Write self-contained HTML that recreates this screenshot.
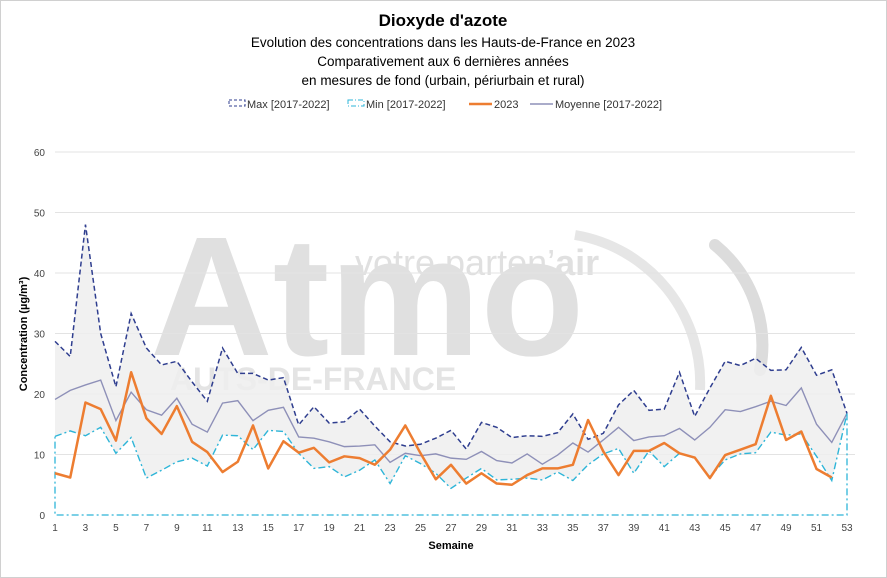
<!DOCTYPE html>
<html><head><meta charset="utf-8"><style>
body{margin:0;background:#fff;font-family:"Liberation Sans",sans-serif;}
svg{display:block}
</style></head><body>
<svg id="chart" width="887" height="578" xmlns="http://www.w3.org/2000/svg">
<rect x="0.5" y="0.5" width="886" height="577" fill="#fff" stroke="#d0d0d0"/>
<text x="443" y="26" text-anchor="middle" font-size="17" font-weight="bold" fill="#000">Dioxyde d'azote</text>
<text x="443" y="47" text-anchor="middle" font-size="13.5" fill="#000">Evolution des concentrations dans les Hauts-de-France en 2023</text>
<text x="443" y="66" text-anchor="middle" font-size="13.5" fill="#000">Comparativement aux 6 dernières années</text>
<text x="443" y="85" text-anchor="middle" font-size="13.5" fill="#000">en mesures de fond (urbain, périurbain et rural)</text>
<g id="legend" font-size="11" fill="#333">
 <g><rect x="229" y="100" width="16" height="6" fill="none" stroke="#2f3e8f" stroke-dasharray="3,2"/><text x="247" y="108">Max [2017-2022]</text></g>
 <g><rect x="348" y="100" width="16" height="6" fill="none" stroke="#2eb5d8" stroke-dasharray="5,2,1,2"/><text x="366" y="108">Min [2017-2022]</text></g>
 <g><line x1="469" y1="104" x2="492" y2="104" stroke="#ed7d31" stroke-width="2.5"/><text x="494" y="108">2023</text></g>
 <g><line x1="530" y1="104" x2="553" y2="104" stroke="#8e90b8" stroke-width="1.5"/><text x="555" y="108">Moyenne [2017-2022]</text></g>
</g>
<g id="watermark" fill="#e2e2e2" font-family="Liberation Sans,sans-serif">
 <text x="150" y="355" font-size="170" font-weight="bold" fill="#e0e0e0">Atmo</text>
 <text x="355" y="275" font-size="36" fill="#e0e0e0">votre parten’<tspan font-weight="bold">air</tspan></text>
 <text x="170" y="390" font-size="32" font-weight="bold" fill="#e4e4e4">AUTS-DE-FRANCE</text>
 <path d="M575 235 A150 150 0 0 1 700 390" fill="none" stroke="#e6e6e6" stroke-width="10"/>
 <path d="M715 245 A130 130 0 0 1 760 370" fill="none" stroke="#dcdcdc" stroke-width="12" stroke-linecap="round"/>
</g>
<g id="grid"></g>
<g id="area"></g>
<g id="series"></g>
<g id="axes"></g>
<text transform="translate(27,334) rotate(-90)" text-anchor="middle" font-size="11" font-weight="bold" fill="#000">Concentration (µg/m³)</text>
<text x="451" y="549" text-anchor="middle" font-size="11" font-weight="bold" fill="#000">Semaine</text>
</svg>
<script>
const weeks = Array.from({length:53},(_,i)=>i+1);
const yTicks = [0,10,20,30,40,50,60];
const maxVals = [28.7,26.2,48,30,21.2,33.3,27.6,24.8,25.4,22,18.8,27.6,23.4,23.4,22.3,22.7,14.9,17.9,15.2,15.4,17.5,14.7,12.1,11.4,11.7,12.7,14,10.9,15.3,14.5,12.8,13.1,13,13.6,16.7,12.5,13.5,18.2,20.6,17.3,17.5,23.6,16.3,21,25.4,24.7,25.9,23.9,24,27.7,23.1,24,16.8];
const minVals = [13,13.9,13.1,14.5,10.2,12.8,6.1,7.4,8.8,9.4,8.1,13.2,13.1,10.8,14,13.8,10.2,7.7,8,6.3,7.4,9.1,5.2,9.8,8.5,6.9,4.4,6.1,7.7,5.8,5.9,6.1,5.8,7.1,5.7,8.3,10.1,11,6.9,10.6,8,10.2,9.4,6.3,9.1,10.1,10.3,13.7,13.2,13.4,9.7,5.7,16.8];
const meanVals = [19.1,20.6,21.5,22.3,15.6,20.3,17.4,16.5,19.3,15,13.7,18.5,18.9,15.6,17.3,17.8,12.9,12.7,12.1,11.3,11.4,11.6,8.7,10.2,9.8,10.1,9.4,9.2,10.5,9,8.6,10.1,8.4,9.9,11.9,10.4,12.4,14.5,12.3,12.9,13.1,14.3,12.4,14.5,17.4,17.1,17.9,18.8,18.1,21,15,12,16.8];
const vals2023 = [6.9,6.2,18.6,17.5,12.3,23.6,16,13.4,18,12.1,10.4,7.1,8.8,14.8,7.7,12.2,10.3,11.1,8.7,9.7,9.4,8.3,10.8,14.8,10.2,5.9,8.3,5.2,6.9,5.2,5,6.6,7.7,7.7,8.3,15.7,10.5,6.6,10.6,10.6,11.9,10.2,9.5,6.1,9.9,10.8,11.7,19.7,12.4,13.8,7.6,6.2];
const NS="http://www.w3.org/2000/svg";
const X0=55,X1=847,Y0=515,Y60=152;
const xs=w=>X0+(w-1)*(X1-X0)/52;
const ys=v=>Y0-v*(Y0-Y60)/60;
function mk(tag,attrs,parent){const e=document.createElementNS(NS,tag);for(const k in attrs)e.setAttribute(k,attrs[k]);parent.appendChild(e);return e;}
const grid=document.getElementById('grid'),axes=document.getElementById('axes'),area=document.getElementById('area'),series=document.getElementById('series');
yTicks.forEach(t=>{
 if(t>0){const l=mk('line',{x1:X0,x2:X1+8,y1:ys(t),y2:ys(t),stroke:'#e3e3e3','stroke-width':1},grid);
 
 }
 const tx=mk('text',{x:X0-10,y:ys(t)+4,'text-anchor':'end','font-size':10,fill:'#444'},axes);tx.textContent=t;
 
 
});
weeks.forEach(w=>{if(w%2===1){const tx=mk('text',{x:xs(w),y:Y0+16,'text-anchor':'middle','font-size':10,fill:'#444'},axes);tx.textContent=w;
 
 }});
const pts=(arr)=>arr.map((v,i)=>xs(i+1)+','+ys(v)).join(' ');
let band=maxVals.map((v,i)=>xs(i+1)+','+ys(v)).join(' ')+' '+minVals.map((v,i)=>[xs(i+1),ys(v)]).reverse().map(p=>p.join(',')).join(' ');
const bp=mk('polygon',{points:band,fill:'#efefef','fill-opacity':0.85},area);


const minOutline=mk('polyline',{points:xs(53)+','+ys(minVals[52])+' '+xs(53)+','+ys(0)+' '+xs(1)+','+ys(0)+' '+xs(1)+','+ys(minVals[0]),fill:'none',stroke:'#2eb5d8','stroke-width':1.3,'stroke-dasharray':'7,3,2,3'},series);


const lMean=mk('polyline',{points:pts(meanVals),fill:'none',stroke:'#8e90b8','stroke-width':1.4},series);


const lMax=mk('polyline',{points:pts(maxVals),fill:'none',stroke:'#2f3e8f','stroke-width':1.5,'stroke-dasharray':'5,3'},series);


const lMin=mk('polyline',{points:pts(minVals),fill:'none',stroke:'#2eb5d8','stroke-width':1.4,'stroke-dasharray':'7,3,2,3'},series);


const l23=mk('polyline',{points:pts(vals2023),fill:'none',stroke:'#ed7d31','stroke-width':2.5,'stroke-linejoin':'round'},series);


</script>
</body></html>
